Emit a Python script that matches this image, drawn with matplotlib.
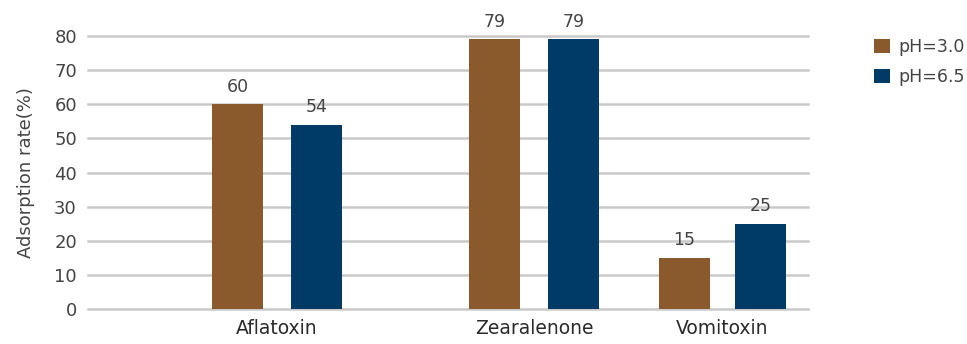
import matplotlib
matplotlib.use("Agg")
import matplotlib.pyplot as plt
from matplotlib.patches import Patch

# Data
categories = ["Aflatoxin", "Zearalenone", "Vomitoxin"]
series_names = ["pH=3.0", "pH=6.5"]
ph30 = [60, 79, 15]
ph65 = [54, 79, 25]
y_ticks = [0, 10, 20, 30, 40, 50, 60, 70, 80]

# Layout (group centres on the x axis, in axis units)
centers = [1.89, 4.46, 6.345]
offsets = [0.395, 0.395, 0.38]
bar_w = 0.51
colors = ["#8B5A2C", "#003A66"]
text_color = "#444444"

plt.rcParams["font.family"] = ["DejaVu Sans"]

fig = plt.figure(figsize=(9.67, 3.44), dpi=100)
ax = fig.add_axes([0.091, 0.1017, 0.7446, 0.7936])

x1 = [c - o for c, o in zip(centers, offsets)]
x2 = [c + o for c, o in zip(centers, offsets)]
b1 = ax.bar(x1, ph30, width=bar_w, color=colors[0], zorder=3)
b2 = ax.bar(x2, ph65, width=bar_w, color=colors[1], zorder=3)

for bars, vals in ((b1, ph30), (b2, ph65)):
    for rect, v in zip(bars, vals):
        ax.annotate(f"{v}", (rect.get_x() + rect.get_width() / 2, v),
                    xytext=(0, 6), textcoords="offset points",
                    ha="center", va="bottom", fontsize=12.5, color=text_color)

ax.set_xlim(0, 7.2)
ax.set_ylim(0, 80)
ax.set_yticks(y_ticks)
ax.set_xticks(centers)
ax.set_xticklabels(categories, fontsize=13.5, color="#2a2a2a")
ax.tick_params(axis="y", labelsize=13, colors=text_color, length=0, pad=8)
ax.tick_params(axis="x", length=0, pad=7)
ax.grid(axis="y", color="#c9c9c9", linewidth=1.8, zorder=0)
for gl in ax.yaxis.get_gridlines():
    gl.set_clip_on(False)
ax.set_axisbelow(True)
for s in ax.spines.values():
    s.set_visible(False)

ax.set_ylabel("Adsorption rate(%)", fontsize=13, color=text_color, labelpad=14)

handles = [Patch(facecolor=c, edgecolor="none") for c in colors]
fig.legend(handles, series_names, loc="upper left", bbox_to_anchor=(0.888, 0.935),
           frameon=False, fontsize=12.5, handlelength=0.9, handleheight=0.9,
           handletextpad=0.5, labelspacing=0.7, labelcolor=text_color)

fig.savefig("out.png", dpi=100)
